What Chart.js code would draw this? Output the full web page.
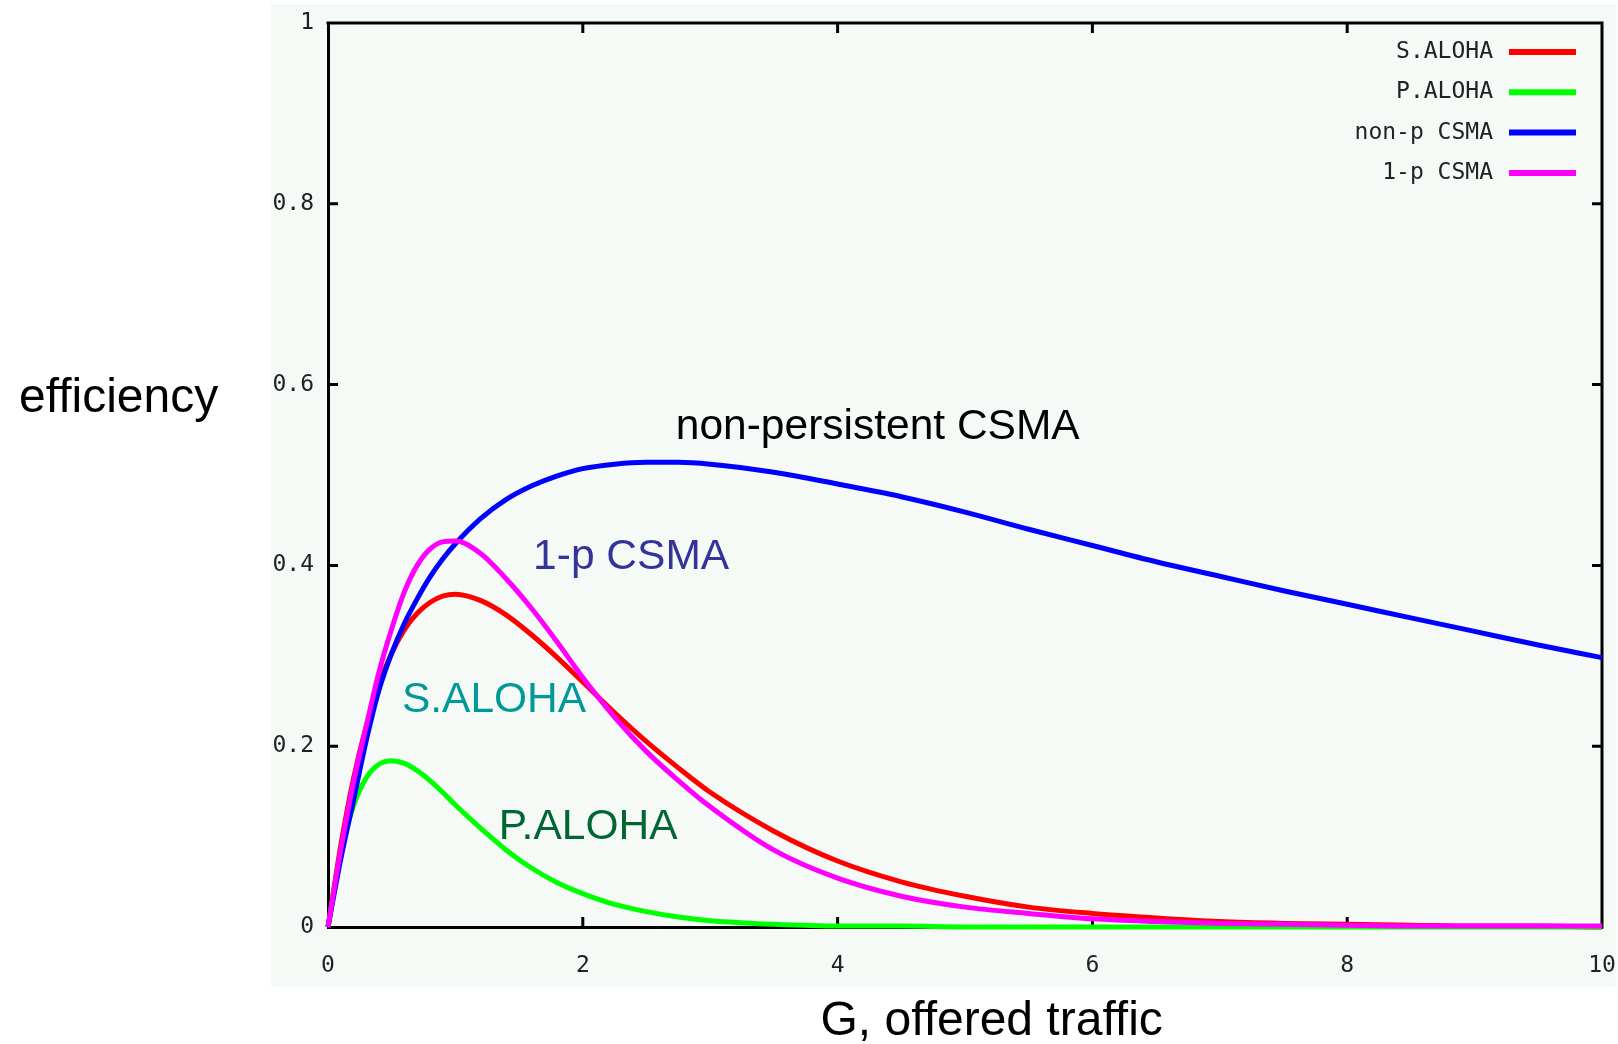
<!DOCTYPE html>
<html>
<head>
<meta charset="utf-8">
<title>Efficiency vs offered traffic</title>
<script src="https://cdn.jsdelivr.net/npm/chart.js@4.4.1/dist/chart.umd.min.js"></script>
<style>
  html, body { margin: 0; padding: 0; background: #ffffff; }
  #wrap { position: relative; width: 1618px; height: 1044px; }
</style>
</head>
<body>
<div id="wrap"><canvas id="chart"></canvas></div>
<script>
// G, offered traffic (sample points)
const loadG = [0, 0.1, 0.2, 0.3, 0.4, 0.5, 0.6, 0.7, 0.8, 0.9, 1.0, 1.2, 1.4, 1.6, 1.8, 2.0,
  2.25, 2.5, 2.75, 3.0, 3.5, 4, 4.5, 5, 5.5, 6, 6.5, 7, 7.5, 8, 8.5, 9, 9.5, 10];

// efficiency for each protocol
const sAloha = [0, 0.090, 0.164, 0.222, 0.268, 0.303, 0.329, 0.347, 0.359, 0.366, 0.368, 0.361, 0.345, 0.323, 0.298, 0.271,
  0.237, 0.205, 0.176, 0.149, 0.106, 0.073, 0.050, 0.034, 0.022, 0.015, 0.010, 0.006, 0.004, 0.003, 0.002, 0.001, 0.001, 0];
const pAloha = [0, 0.082, 0.134, 0.165, 0.180, 0.184, 0.181, 0.173, 0.162, 0.149, 0.135, 0.109, 0.085, 0.065, 0.049, 0.037,
  0.025, 0.017, 0.011, 0.007, 0.003, 0.001, 0.001, 0, 0, 0, 0, 0, 0, 0, 0, 0, 0, 0];
const nonPCsma = [0, 0.075, 0.140, 0.206, 0.262, 0.303, 0.336, 0.363, 0.387, 0.407, 0.424, 0.452, 0.473, 0.488, 0.499, 0.507,
  0.512, 0.514, 0.514, 0.512, 0.503, 0.490, 0.476, 0.459, 0.440, 0.422, 0.404, 0.388, 0.372, 0.357, 0.342, 0.327, 0.312, 0.298];
const onePCsma = [0, 0.085, 0.160, 0.222, 0.282, 0.330, 0.371, 0.400, 0.418, 0.426, 0.427, 0.413, 0.385, 0.352, 0.315, 0.276,
  0.232, 0.194, 0.162, 0.133, 0.085, 0.054, 0.034, 0.022, 0.015, 0.009, 0.006, 0.004, 0.003, 0.002, 0.001, 0.001, 0.001, 0.001];

const seriesNames = ['S.ALOHA', 'P.ALOHA', 'non-p CSMA', '1-p CSMA'];
const seriesColors = ['#ff0000', '#00ff00', '#0000ff', '#ff00ff'];
const seriesValues = [sAloha, pAloha, nonPCsma, onePCsma];
const drawOrder = [3, 2, 1, 0]; // 1-p CSMA on top, like gnuplot

const xTicks = [0, 2, 4, 6, 8, 10];
const yTicks = [0, 0.2, 0.4, 0.6, 0.8, 1];

// text written inside the plot, placed in data units
const notes = [
  { text: 'non-persistent CSMA', g: 2.73, eff: 0.553, color: '#000000' },
  { text: '1-p CSMA', g: 1.61, eff: 0.409, color: '#333399' },
  { text: 'S.ALOHA', g: 0.58, eff: 0.251, color: '#009999' },
  { text: 'P.ALOHA', g: 1.34, eff: 0.110, color: '#006633' }
];

const tickFont = '"DejaVu Sans Mono", "Liberation Mono", monospace';
const textFont = '"Liberation Sans", Arial, Helvetica, sans-serif';

// gnuplot-like frame: pale panel, closed box, inward ticks, legend, notes
const gnuplotLook = {
  id: 'gnuplotLook',
  beforeDraw(chart) {
    const ctx = chart.ctx;
    ctx.save();
    ctx.fillStyle = '#f5faf7';
    ctx.fillRect(271, 4, 1345, 983);
    ctx.restore();
  },
  beforeDatasetsDraw(chart) {
    const { ctx, chartArea: a, scales: { x, y } } = chart;
    ctx.save();
    ctx.strokeStyle = '#000000';
    ctx.lineWidth = 3;
    ctx.beginPath();
    ctx.moveTo(a.left - 1.5, a.top);
    ctx.lineTo(a.right, a.top);
    ctx.lineTo(a.right, a.bottom + 1.5);
    ctx.stroke();
    ctx.beginPath();
    xTicks.slice(1, -1).forEach(v => {
      const px = x.getPixelForValue(v);
      ctx.moveTo(px, a.bottom); ctx.lineTo(px, a.bottom - 10);
      ctx.moveTo(px, a.top); ctx.lineTo(px, a.top + 10);
    });
    yTicks.slice(1, -1).forEach(v => {
      const py = y.getPixelForValue(v);
      ctx.moveTo(a.left, py); ctx.lineTo(a.left + 10, py);
      ctx.moveTo(a.right, py); ctx.lineTo(a.right - 10, py);
    });
    ctx.stroke();
    ctx.restore();
  },
  afterDatasetsDraw(chart) {
    const { ctx, chartArea: a, scales: { x, y } } = chart;
    ctx.save();

    // legend, top right
    ctx.font = '23px ' + tickFont;
    ctx.textAlign = 'right';
    ctx.textBaseline = 'middle';
    chart.data.datasets.forEach((ds, i) => {
      const ly = a.top + 29 + i * 40.3;
      ctx.fillStyle = '#222222';
      ctx.fillText(ds.label, a.right - 109, ly);
      ctx.strokeStyle = ds.borderColor;
      ctx.lineWidth = 6;
      ctx.beginPath();
      ctx.moveTo(a.right - 93, ly);
      ctx.lineTo(a.right - 26, ly);
      ctx.stroke();
    });

    // labels next to the curves
    ctx.font = '42.5px ' + textFont;
    ctx.textAlign = 'left';
    notes.forEach(n => {
      ctx.fillStyle = n.color;
      ctx.fillText(n.text, x.getPixelForValue(n.g), y.getPixelForValue(n.eff));
    });

    // axis titles
    ctx.fillStyle = '#000000';
    ctx.font = '48px ' + textFont;
    ctx.fillText('efficiency', 19, 399);
    ctx.textAlign = 'center';
    ctx.textBaseline = 'alphabetic';
    ctx.fillText('G, offered traffic', 961 * 1.0319, 1035);
    ctx.restore();
  }
};

const tickLabel = value => String(+value.toFixed(1));

const ctx = document.getElementById('chart').getContext('2d');
const chart = new Chart(ctx, {
  type: 'line',
  data: {
    datasets: seriesNames.map((name, i) => ({
      label: name,
      data: loadG.map((g, k) => ({ x: g, y: seriesValues[i][k] })),
      borderColor: seriesColors[i],
      backgroundColor: seriesColors[i],
      borderWidth: 5,
      pointRadius: 0,
      cubicInterpolationMode: 'monotone',
      fill: false,
      clip: false,
      order: drawOrder[i]
    }))
  },
  options: {
    responsive: true,
    maintainAspectRatio: false,
    animation: false,
    layout: { padding: { left: 268, right: 16, top: 23, bottom: 0 } },
    plugins: {
      legend: { display: false },
      tooltip: { enabled: false }
    },
    scales: {
      x: {
        type: 'linear',
        min: 0,
        max: 10,
        afterBuildTicks: scale => { scale.ticks = xTicks.map(v => ({ value: v })); },
        afterFit: scale => { scale.height = 117; scale.paddingLeft = 0; scale.paddingRight = 0; },
        grid: { drawOnChartArea: false, drawTicks: false },
        border: { display: true, color: '#000000', width: 3 },
        ticks: { color: '#222222', padding: 25, maxRotation: 0, callback: tickLabel, font: { family: tickFont, size: 23 } }
      },
      y: {
        type: 'linear',
        min: 0,
        max: 1,
        afterBuildTicks: scale => { scale.ticks = yTicks.map(v => ({ value: v })); },
        afterFit: scale => { scale.width = 60; scale.paddingTop = 0; scale.paddingBottom = 0; },
        grid: { drawOnChartArea: false, drawTicks: false },
        border: { display: true, color: '#000000', width: 3 },
        ticks: { color: '#222222', padding: 14, callback: tickLabel, font: { family: tickFont, size: 23 } }
      }
    }
  },
  plugins: [gnuplotLook]
});
</script>
</body>
</html>
